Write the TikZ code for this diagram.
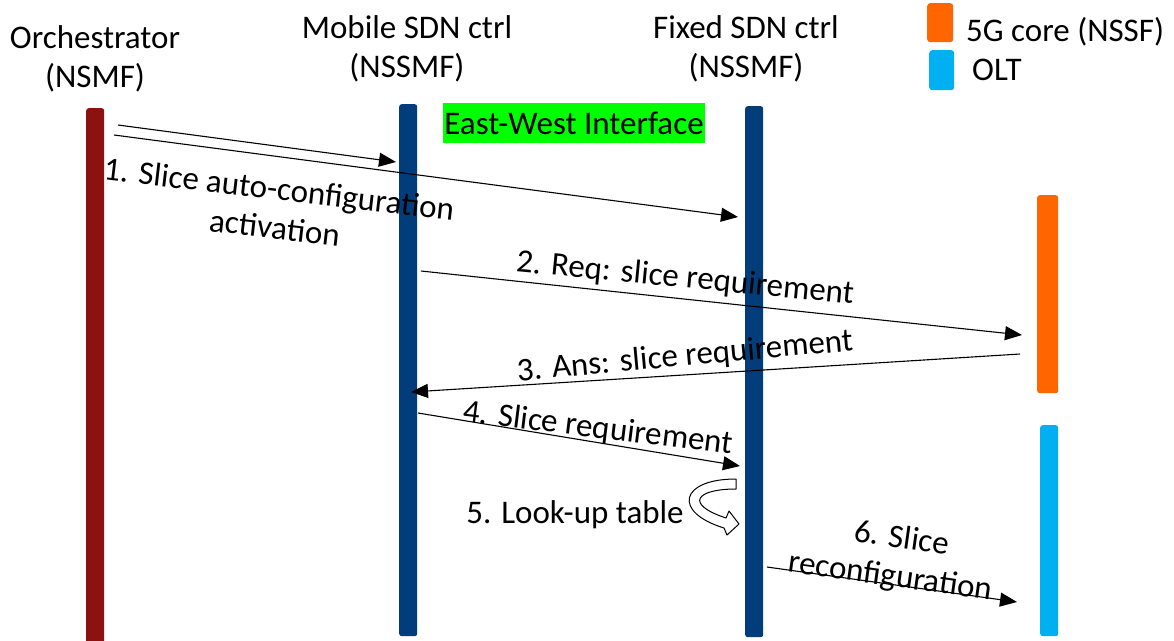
\documentclass[tikz,border=0pt]{standalone}
\usepackage{fontspec}
\setmainfont{Carlito}
\usetikzlibrary{arrows.meta}
\definecolor{orchred}{RGB}{140,17,17}
\definecolor{sdnblue}{RGB}{0,61,122}
\definecolor{coreorange}{RGB}{255,102,0}
\definecolor{oltcyan}{RGB}{0,176,240}
\definecolor{ewgreen}{RGB}{0,255,0}
\begin{document}
\begin{tikzpicture}[x=1pt,y=-1pt,
  every node/.style={font=\fontsize{33}{39}\selectfont, inner sep=0pt},
  bar/.style={rounded corners=2.5pt, minimum width=18pt, anchor=north west, draw=none},
  legbox/.style={rounded corners=3pt, anchor=north west, draw=none},
  msg/.style={-{Triangle[length=17pt,width=14pt]}, line width=1.1pt},
  lbl/.style={align=center}]
\useasboundingbox (0,0) rectangle (1174,640);

% lifelines
\node[bar, fill=orchred, minimum height=545pt] (orch) at (86,108) {};
\node[bar, fill=sdnblue, minimum height=532pt] (mob) at (399,104) {};
\node[bar, fill=sdnblue, minimum height=531pt] (fix) at (745,106) {};
\node[bar, fill=coreorange, minimum width=21pt, minimum height=198pt] (core) at (1037,195) {};
\node[bar, fill=oltcyan, minimum height=211pt] (olt) at (1040,425) {};

% headers
\node[lbl] (orchT) at (95,59) {Orchestrator\\(NSMF)};
\node[lbl] (mobT) at (407,49) {Mobile SDN ctrl\\(NSSMF)};
\node[lbl] (fixT) at (746,49) {Fixed SDN ctrl\\(NSSMF)};

% legend
\node[legbox, fill=coreorange, minimum width=26pt, minimum height=39pt] (lg1) at (927,3) {};
\node[anchor=west] (lg1T) at (966,32) {5G core (NSSF)};
\node[legbox, fill=oltcyan, minimum width=25pt, minimum height=40pt] (lg2) at (929,50) {};
\node[anchor=west] (lg2T) at (972,70) {OLT};

% east-west interface
\node[fill=ewgreen, minimum width=262pt, minimum height=40pt] (ew) at (574,123) {East-West Interface};

% message end points
\coordinate (s1a) at (118,125);
\coordinate (e1a) at (396,162);
\coordinate (s1b) at (114,135);
\coordinate (e1b) at (738,217);
\coordinate (s2) at (421,271);
\coordinate (e2) at (1022,335);
\coordinate (s3) at (1020,354);
\coordinate (e3) at (411,392);
\coordinate (s4) at (418,413);
\coordinate (e4) at (740,466);
\coordinate (s6) at (767,567);
\coordinate (e6) at (1017,602);

\draw[msg] (s1a) -- (e1a);
\draw[msg] (s1b) -- (e1b);
\draw[msg] (s2) -- (e2);
\draw[msg] (s3) -- (e3);
\draw[msg] (s4) -- (e4);
\draw[msg] (s6) -- (e6);

% labels
\node[lbl, rotate=-6.6] (l1) at (277,208) {1. Slice auto-configuration\\activation};
\node[lbl, rotate=-5.5] (l2) at (685,279) {2. Req: slice requirement};
\node[lbl, rotate=5.2] (l3) at (685,357) {3. Ans: slice requirement};
\node[lbl, rotate=-7] (l4) at (598,429) {4. Slice requirement};
\node (l5) at (575,515) {5. Look-up table};
\node[lbl, rotate=-8] (l6) at (893,558) {\hspace*{12pt}6. Slice\\reconfiguration};

% look-up curved block arrow
\draw[fill=white, line width=1pt, line join=round]
  (736,479) -- (736,489) .. controls (696,489) and (684,504) .. (726,518)
  -- (729,511) -- (739,524) -- (727,535) -- (724,528)
  .. controls (672,512) and (680,479) .. (736,479) -- cycle;
\end{tikzpicture}
\end{document}
